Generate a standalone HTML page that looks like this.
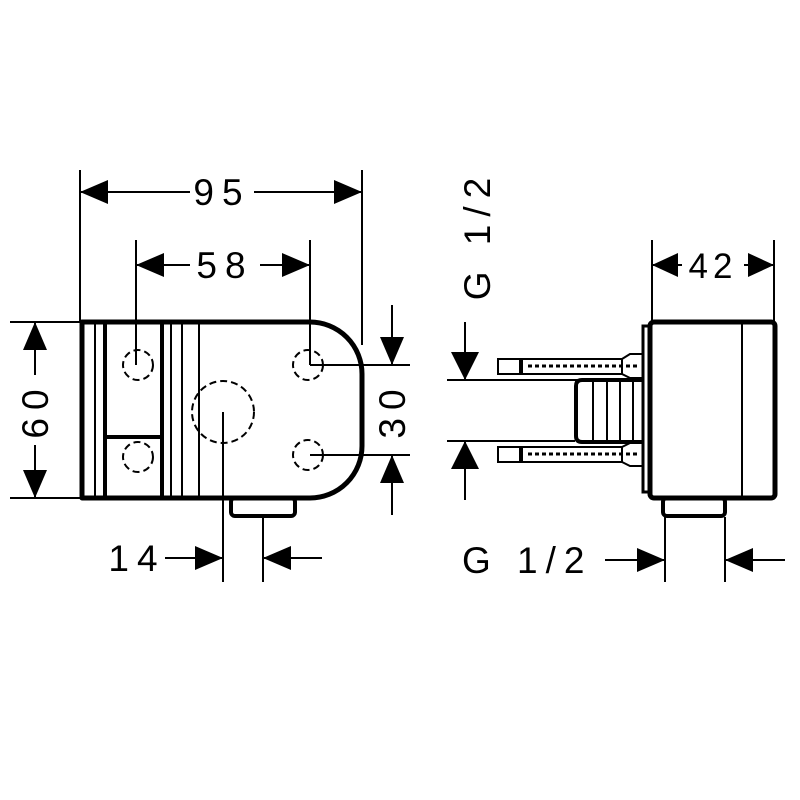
<!DOCTYPE html>
<html><head><style>body{margin:0;background:#fff}svg{display:block}</style></head><body>
<svg width="800" height="800" viewBox="0 0 800 800" xmlns="http://www.w3.org/2000/svg" font-family="Liberation Sans, sans-serif" font-size="37" fill="none" stroke="#000">
<g stroke-width="2">
<line x1="80" y1="170" x2="80" y2="322"/>
<line x1="362" y1="170" x2="362" y2="345"/>
<line x1="136" y1="240" x2="136" y2="365"/>
<line x1="310" y1="240" x2="310" y2="365"/>
<line x1="10" y1="322" x2="80" y2="322"/>
<line x1="10" y1="498" x2="80" y2="498"/>
<line x1="310" y1="365" x2="410" y2="365"/>
<line x1="310" y1="455" x2="410" y2="455"/>
<line x1="223" y1="412" x2="223" y2="582"/>
<line x1="263" y1="517" x2="263" y2="582"/>
<line x1="80" y1="192" x2="190" y2="192"/><line x1="254" y1="192" x2="362" y2="192"/>
<line x1="136" y1="265" x2="190" y2="265"/><line x1="260" y1="265" x2="310" y2="265"/>
<line x1="35" y1="322" x2="35" y2="375"/><line x1="35" y1="445" x2="35" y2="498"/>
<line x1="392" y1="305" x2="392" y2="365"/><line x1="392" y1="455" x2="392" y2="515"/>
<line x1="165" y1="558" x2="223" y2="558"/><line x1="263" y1="558" x2="322" y2="558"/>
</g>
<g fill="#000" stroke="none">
<polygon points="80,192 108,180 108,204"/><polygon points="362,192 334,180 334,204"/>
<polygon points="136,265 164,253 164,277"/><polygon points="310,265 282,253 282,277"/>
<polygon points="35,322 23,350 47,350"/><polygon points="35,498 23,470 47,470"/>
<polygon points="392,365 380,337 404,337"/><polygon points="392,455 380,483 404,483"/>
<polygon points="223,558 195,546 195,570"/><polygon points="263,558 291,546 291,570"/>
</g>
<g fill="#000" stroke="none">
<text x="222" y="205" text-anchor="middle" letter-spacing="8">95</text>
<text x="225" y="278" text-anchor="middle" letter-spacing="8">58</text>
<text x="137" y="571" text-anchor="middle" letter-spacing="8">14</text>
<text transform="translate(48,410) rotate(-90)" text-anchor="middle" letter-spacing="8">60</text>
<text transform="translate(405,410) rotate(-90)" text-anchor="middle" letter-spacing="8">30</text>
</g>
<path d="M82,322 H310 A52,52 0 0 1 362,374 V446 A52,52 0 0 1 310,498 H82 Z" stroke-width="5" stroke-linejoin="round"/>
<rect x="231" y="498" width="64" height="18" rx="4" stroke-width="4"/>
<g stroke-width="2">
<line x1="95" y1="324" x2="95" y2="496"/>
<line x1="171" y1="324" x2="171" y2="496"/>
<line x1="182" y1="324" x2="182" y2="496"/>
<line x1="199" y1="324" x2="199" y2="496"/>
</g>
<g stroke-width="4">
<line x1="105" y1="324" x2="105" y2="496"/>
<line x1="162" y1="324" x2="162" y2="496"/>
<line x1="107" y1="437" x2="160" y2="437"/>
</g>
<g stroke-width="2" stroke-dasharray="7,4">
<circle cx="138" cy="365" r="15"/><circle cx="138" cy="457" r="15"/>
<circle cx="308" cy="365" r="15"/><circle cx="308" cy="455" r="15"/>
<circle cx="223" cy="412" r="31"/>
</g>
<g stroke-width="2">
<line x1="652" y1="240" x2="652" y2="322"/>
<line x1="774" y1="240" x2="774" y2="322"/>
<line x1="652" y1="265" x2="774" y2="265"/>
<line x1="447" y1="380" x2="640" y2="380"/>
<line x1="447" y1="441" x2="575" y2="441"/>
<line x1="465" y1="322" x2="465" y2="380"/><line x1="465" y1="441" x2="465" y2="500"/>
<line x1="665" y1="517" x2="665" y2="582"/><line x1="725" y1="517" x2="725" y2="582"/>
<line x1="605" y1="560" x2="665" y2="560"/><line x1="725" y1="560" x2="785" y2="560"/>
</g>
<g fill="#000" stroke="none">
<polygon points="652,265 678,253 678,277"/><polygon points="774,265 748,253 748,277"/>
<polygon points="465,380 451,352 479,352"/><polygon points="465,441 451,469 479,469"/>
<polygon points="665,560 637,548 637,572"/><polygon points="725,560 753,548 753,572"/>
<rect x="682" y="245" width="62" height="40" fill="#fff"/>
<text x="713" y="278" text-anchor="middle" letter-spacing="5" font-size="35">42</text>
<text x="462" y="573" letter-spacing="8">G 1/2</text>
<text transform="translate(490,235) rotate(-90)" text-anchor="middle" letter-spacing="8">G 1/2</text>
</g>
<g stroke-width="2">
<rect x="498" y="359" width="22" height="15"/>
<rect x="522" y="359" width="100" height="15"/>
<rect x="498" y="447" width="22" height="15"/>
<rect x="522" y="447" width="100" height="15"/>
<path d="M622,359 L630,354 H643 M622,374 L630,378 H643 M622,447 L630,443 H643 M622,462 L630,466 H643"/>
<line x1="528" y1="366" x2="640" y2="366" stroke-dasharray="4,3" stroke-width="3"/>
<line x1="528" y1="454" x2="640" y2="454" stroke-dasharray="4,3" stroke-width="3"/>
</g>
<path d="M643,380 H582 Q576,380 576,386 V436 Q576,442 582,442 H643" stroke-width="4"/>
<g stroke-width="2">
<line x1="593" y1="382" x2="593" y2="440"/><line x1="607" y1="382" x2="607" y2="440"/>
<line x1="620" y1="382" x2="620" y2="440"/><line x1="633" y1="382" x2="633" y2="440"/>
</g>
<rect x="643" y="326" width="8" height="166" stroke-width="3"/>
<rect x="650" y="322" width="125" height="176" rx="4" stroke-width="5"/>
<line x1="742" y1="324" x2="742" y2="496" stroke-width="2"/>
<rect x="663" y="498" width="62" height="18" rx="4" stroke-width="4"/>
</svg>
</body></html>
